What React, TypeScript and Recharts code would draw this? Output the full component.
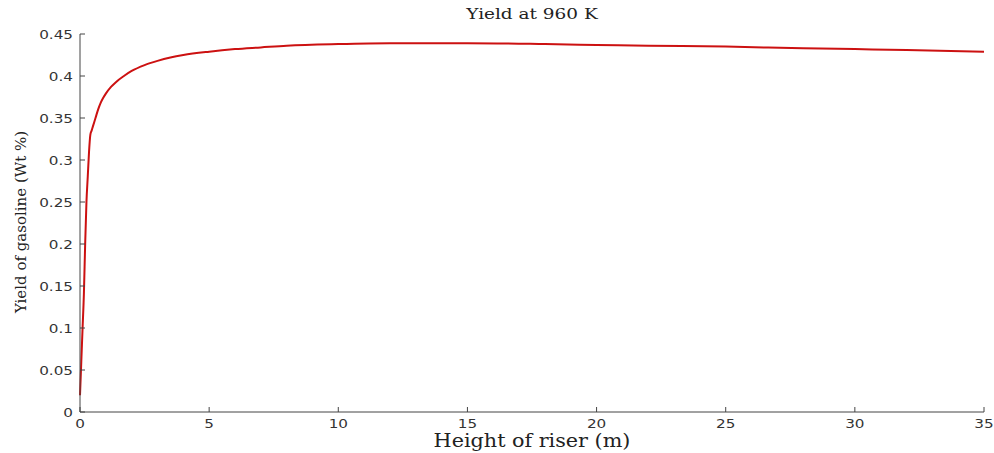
import { LineChart, Line, XAxis, YAxis } from 'recharts';

const heights = [0, 0.05, 0.1, 0.15, 0.2, 0.25, 0.3, 0.35, 0.4, 0.45, 0.5, 0.6, 0.7, 0.8, 0.9, 1.0, 1.2, 1.4, 1.7, 2, 2.5, 3, 3.5, 4, 5, 6, 7, 8, 10, 12, 15, 18, 20, 22, 25, 28, 30, 32, 35];
const yields = [0.02, 0.06, 0.1, 0.14, 0.2, 0.25, 0.28, 0.31, 0.33, 0.335, 0.34, 0.35, 0.36, 0.368, 0.374, 0.379, 0.387, 0.393, 0.4, 0.406, 0.413, 0.418, 0.422, 0.425, 0.429, 0.432, 0.434, 0.436, 0.438, 0.439, 0.439, 0.438, 0.437, 0.436, 0.435, 0.433, 0.432, 0.431, 0.429];
const xTicks = [0, 5, 10, 15, 20, 25, 30, 35];
const yTicks = [0, 0.05, 0.1, 0.15, 0.2, 0.25, 0.3, 0.35, 0.4, 0.45];

const data = heights.map((h, i) => ({ h, y: yields[i] }));

const AXIS = '#444';
const TICK_FONT = '"DejaVu Sans", Arial, sans-serif';
const SERIF = '"DejaVu Serif", "Liberation Serif", serif';

// the source image is stretched sideways, so horizontal text is widened a bit
function BottomTick({ x, y, payload }: any) {
  return (
    <g>
      <line x1={x} x2={x} y1={y} y2={y - 5} stroke={AXIS} />
      <text transform={`translate(${x},${y + 16}) scale(1.17,1)`} textAnchor="middle" fontSize={13} fontFamily={TICK_FONT} fill="#333">
        {payload.value}
      </text>
    </g>
  );
}

function TopTick({ x, y }: any) {
  return <line x1={x} x2={x} y1={y} y2={y + 5} stroke={AXIS} />;
}

function LeftTick({ x, y, payload }: any) {
  return (
    <g>
      <line x1={x} x2={x + 5} y1={y} y2={y} stroke={AXIS} />
      <text transform={`translate(${x - 7},${y + 4.5}) scale(1.17,1)`} textAnchor="end" fontSize={13} fontFamily={TICK_FONT} fill="#333">
        {payload.value}
      </text>
    </g>
  );
}

function RightTick({ x, y }: any) {
  return <line x1={x} x2={x - 5} y1={y} y2={y} stroke={AXIS} />;
}

export default function App() {
  return (
    <div style={{ position: 'absolute', left: 0, top: 0, width: 994, height: 453, background: '#fff' }}>
      <div style={{ position: 'absolute', left: 80, width: 904, top: 5, textAlign: 'center', fontFamily: SERIF, fontSize: 15, color: '#222', transform: 'scaleX(1.23)' }}>
        Yield at 960 K
      </div>
      <div style={{ position: 'absolute', left: 80, width: 904, top: 430, textAlign: 'center', fontFamily: SERIF, fontSize: 18, color: '#222', transform: 'scaleX(1.15)' }}>
        Height of riser (m)
      </div>
      <div
        style={{
          position: 'absolute',
          left: 21,
          top: 222,
          transform: 'translate(-50%, -50%) rotate(-90deg)',
          whiteSpace: 'nowrap',
          fontFamily: SERIF,
          fontSize: 15,
          color: '#222',
        }}
      >
        Yield of gasoline (Wt %)
      </div>
      <LineChart width={994} height={453} data={data} margin={{ top: 34, right: 10, bottom: 0, left: 0 }}>
        <XAxis
          dataKey="h"
          type="number"
          domain={[0, 35]}
          ticks={xTicks}
          height={41}
          tickSize={0}
          tickMargin={0}
          tickLine={false}
          axisLine={{ stroke: AXIS }}
          tick={<BottomTick />}
          interval={0}
        />
        <XAxis
          xAxisId="top"
          dataKey="h"
          type="number"
          orientation="top"
          domain={[0, 35]}
          ticks={xTicks}
          height={0}
          tickSize={0}
          tickMargin={0}
          tickLine={false}
          axisLine={{ stroke: AXIS }}
          tick={<TopTick />}
          interval={0}
        />
        <YAxis
          type="number"
          domain={[0, 0.45]}
          ticks={yTicks}
          width={80}
          tickSize={0}
          tickMargin={0}
          tickLine={false}
          axisLine={{ stroke: AXIS }}
          tick={<LeftTick />}
          interval={0}
        />
        <YAxis
          yAxisId="right"
          orientation="right"
          type="number"
          domain={[0, 0.45]}
          ticks={yTicks}
          width={0}
          tickSize={0}
          tickMargin={0}
          tickLine={false}
          axisLine={{ stroke: AXIS }}
          tick={<RightTick />}
          interval={0}
        />
        <Line
          dataKey="y"
          type="monotone"
          stroke="#cc1111"
          strokeWidth={2}
          dot={false}
          isAnimationActive={false}
        />
      </LineChart>
    </div>
  );
}
